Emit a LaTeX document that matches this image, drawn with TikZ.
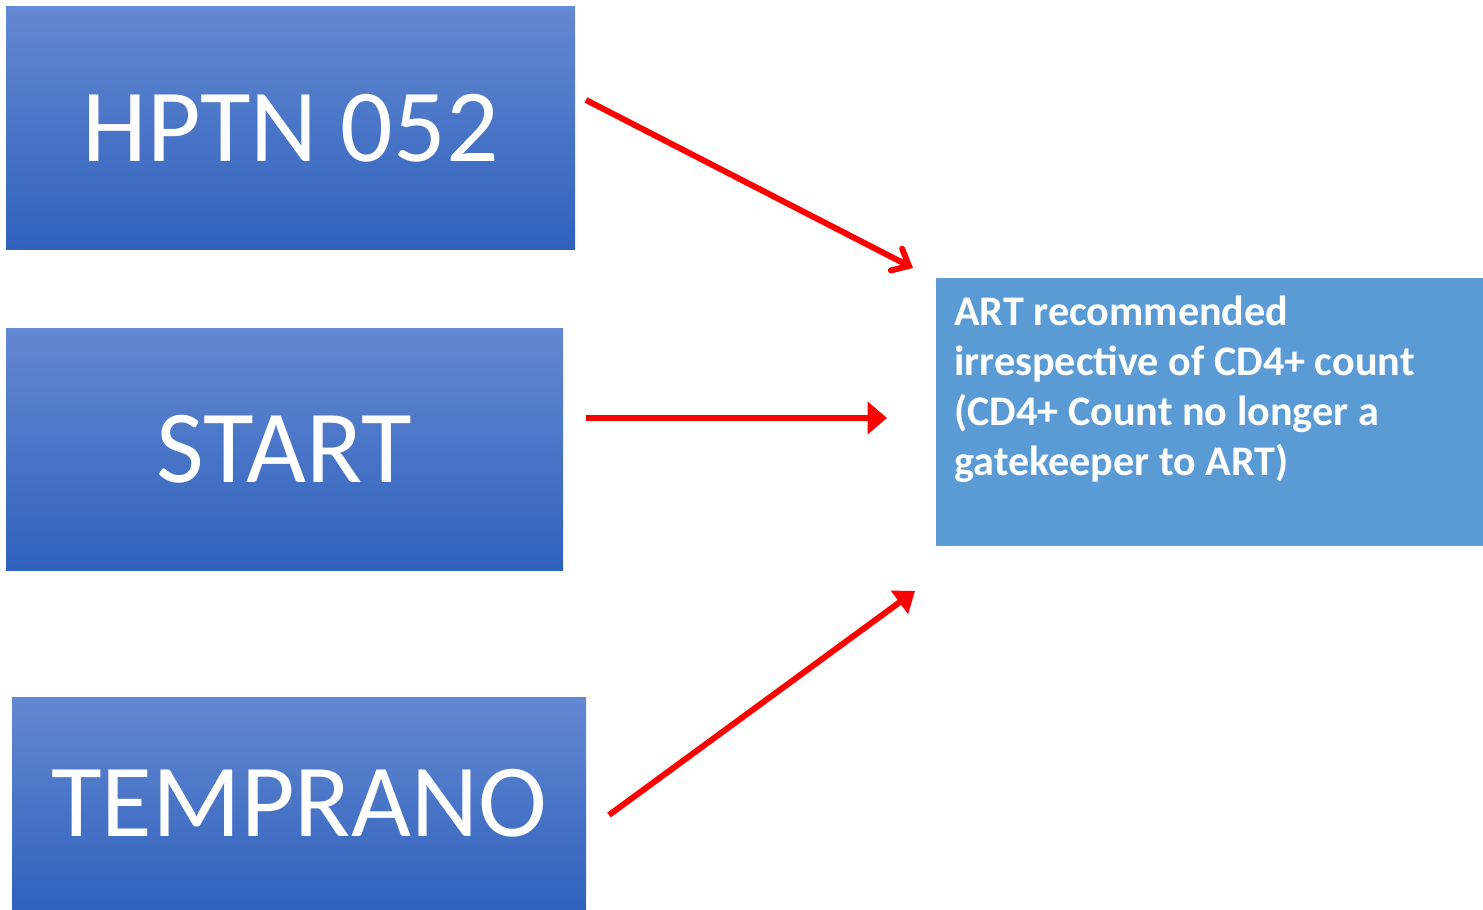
\documentclass[tikz,border=0pt]{standalone}
\usepackage{fontspec}
\setmainfont{Carlito}
\usetikzlibrary{arrows.meta}
\begin{document}
\begin{tikzpicture}[x=0.02cm,y=-0.02cm,
  bluebox/.style={rectangle,inner sep=0pt,outer sep=0pt,top color=topblue,bottom color=botblue,
    text=white,font=\fontsize{59}{70}\selectfont},
  infobox/.style={rectangle,inner sep=0pt,outer sep=0pt,fill=infoblue,text=white},
  redarrow/.style={draw=red,line width=3.4pt}]
\definecolor{topblue}{HTML}{6488D1}
\definecolor{botblue}{HTML}{2F62BC}
\definecolor{infoblue}{HTML}{5B9BD5}
\useasboundingbox (0,0) rectangle (1483,909);
\node[bluebox,minimum width=569*0.02cm,minimum height=242*0.02cm] (hptn) at (290.5,128) {HPTN 052};
\node[bluebox,minimum width=557*0.02cm,minimum height=242*0.02cm] (start) at (284.5,449) {START};
\node[bluebox,minimum width=574*0.02cm,minimum height=212*0.02cm] (temp) at (299,803) {TEMPRANO};
\node[infobox,minimum width=547*0.02cm,minimum height=268*0.02cm] (art) at (1209.5,412) {};
\node[anchor=north west,text=white,align=left,inner sep=0pt,
  font=\bfseries\fontsize{24}{28.4}\selectfont] (arttext) at (954,296)
  {ART recommended\\irrespective of CD4+ count\\(CD4+ Count no longer a\\gatekeeper to ART)};
\coordinate (a1s) at (586,100);
\coordinate (a1e) at (913,268);
\coordinate (a2s) at (586,418);
\coordinate (a2e) at (887,418);
\coordinate (a3s) at (609,815);
\coordinate (a3e) at (915,591);
\draw[redarrow,-{Straight Barb[length=8pt,width=14pt,line cap=round]}] (a1s) -- (a1e);
\draw[redarrow,-{Triangle[length=11pt,width=18pt]}] (a2s) -- (a2e);
\draw[redarrow,-{Triangle[length=11pt,width=16pt]}] (a3s) -- (a3e);
\end{tikzpicture}
\end{document}
